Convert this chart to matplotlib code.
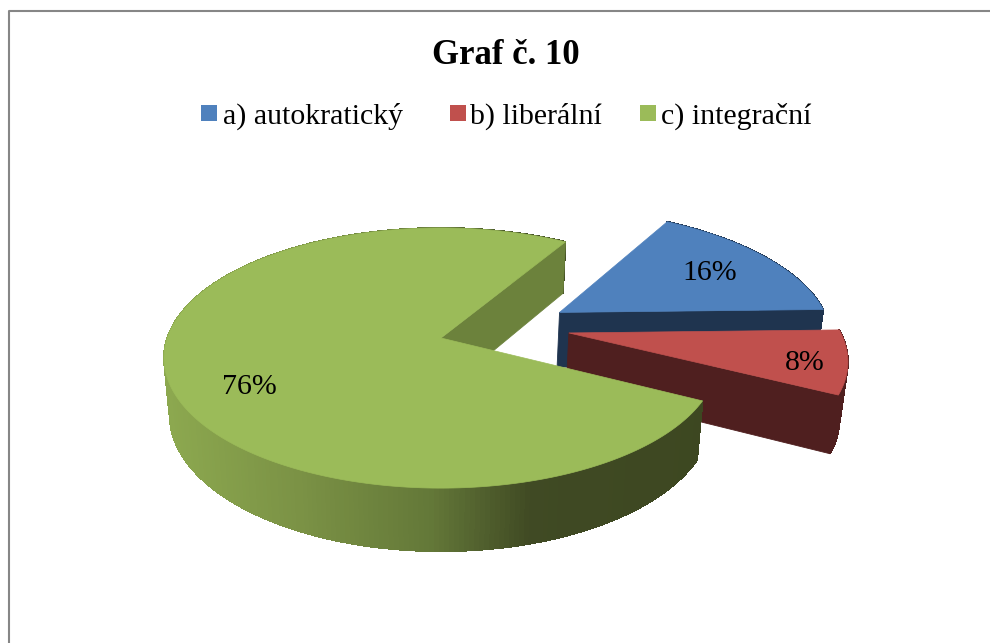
import numpy as np
import matplotlib
matplotlib.use("Agg")
import matplotlib.pyplot as plt
from matplotlib.patches import Polygon, Rectangle

title = "Graf č. 10"
categories = ["a) autokratický", "b) liberální", "c) integrační"]
values = [16, 8, 76]

top_colors = ["#4F81BD", "#C0504D", "#9BBB59"]
wall_colors = ["#1F344F", "#4F1F1F", "#6C823C"]

# pie geometry in pixels: simple perspective on a unit circle
CX = 441
K = 0.154
TOP = dict(y0=338, f=273.7, g=127)
BOTTOM = dict(y0=394, f=268, g=133)
START_ANGLE = 59
EXPLODE = [(0.447, 0.208), (0.47, 0.04), (0, 0)]
LABEL_POS = [(710, 273), (805, 363), (249, 387)]
LEGEND_SQUARE_X = [201, 450, 640]
LEGEND_TEXT_X = [223, 470, 661]


def project(x, y, plane):
    d = 1 + K * y
    return CX + plane["f"] * x / d, plane["y0"] - plane["g"] * y / d


def arc(t0, t1, off, plane):
    t = np.radians(np.linspace(t0, t1, 300))
    return project(np.cos(t) + off[0], np.sin(t) + off[1], plane)


def quad(ax, xs, ys, color, z, aa=True):
    ax.add_patch(Polygon(np.column_stack([xs, ys]), closed=True, facecolor=color,
                         edgecolor=color, linewidth=0.6, zorder=z, antialiased=aa))


def green_shade(x):
    stops = [165, 300, 430, 530, 700]
    rgb = [(0.55, 0.66, 0.31), (0.48, 0.57, 0.27), (0.39, 0.47, 0.22),
           (0.25, 0.29, 0.14), (0.24, 0.28, 0.13)]
    return tuple(np.interp(x, stops, [c[i] for c in rgb]) for i in range(3))


fig = plt.figure(figsize=(9.9, 6.43), dpi=100)
ax = fig.add_axes([0, 0, 1, 1])
ax.set_xlim(0, 990)
ax.set_ylim(643, 0)
ax.axis("off")

ax.plot([8.5, 8.5, 990], [643, 10.5, 10.5], color="#868686", lw=1.5, zorder=1)

# angle ranges clockwise from the start angle, blue, red, then green all the way round
fr = np.array(values) / sum(values) * 360
starts = START_ANGLE - np.concatenate([[0], np.cumsum(fr[:-1])])
ends = starts - fr

for i in range(3):
    z = 10 + i * 10
    off = EXPLODE[i]
    t0, t1 = starts[i], ends[i]
    ax_top = project(off[0], off[1], TOP)
    ax_bot = project(off[0], off[1], BOTTOM)

    # outer wall, cut in thin strips so green can shade
    tx, ty = arc(t0, t1, off, TOP)
    bx, by = arc(t0, t1, off, BOTTOM)
    for j in range(len(tx) - 1):
        if i == 2:
            c = green_shade((tx[j] + tx[j + 1]) / 2)
        else:
            c = wall_colors[i]
        quad(ax, [tx[j], tx[j + 1], bx[j + 1], bx[j]],
             [ty[j], ty[j + 1], by[j + 1], by[j]], c, z, aa=False)

    # cut face on the side that looks at the viewer
    if i == 2:
        # green: the face at the start of the gap
        t = np.radians(START_ANGLE)
    else:
        t = np.radians(t1)
    px_t = project(np.cos(t) + off[0], np.sin(t) + off[1], TOP)
    px_b = project(np.cos(t) + off[0], np.sin(t) + off[1], BOTTOM)
    quad(ax, [ax_top[0], px_t[0], px_b[0], ax_bot[0]],
         [ax_top[1], px_t[1], px_b[1], ax_bot[1]], wall_colors[i], z + 1)

    ax.add_patch(Polygon(np.column_stack([np.r_[ax_top[0], tx], np.r_[ax_top[1], ty]]), closed=True,
                         facecolor=top_colors[i], edgecolor=top_colors[i], linewidth=0.5, zorder=z + 2))
    ax.text(LABEL_POS[i][0], LABEL_POS[i][1], f"{values[i]}%", fontsize=21.5, family="Liberation Serif",
            ha="center", va="center", color="black", zorder=50)

ax.text(505.5, 55, title, fontsize=25, fontweight="bold", family="Liberation Serif",
        ha="center", va="center", color="black")

for i in range(3):
    ax.add_patch(Rectangle((LEGEND_SQUARE_X[i], 105), 16, 16, facecolor=top_colors[i], edgecolor="none"))
    ax.text(LEGEND_TEXT_X[i], 124, categories[i], fontsize=21.5, family="Liberation Serif",
            ha="left", va="baseline", color="black")

fig.savefig("out.png", dpi=100)
